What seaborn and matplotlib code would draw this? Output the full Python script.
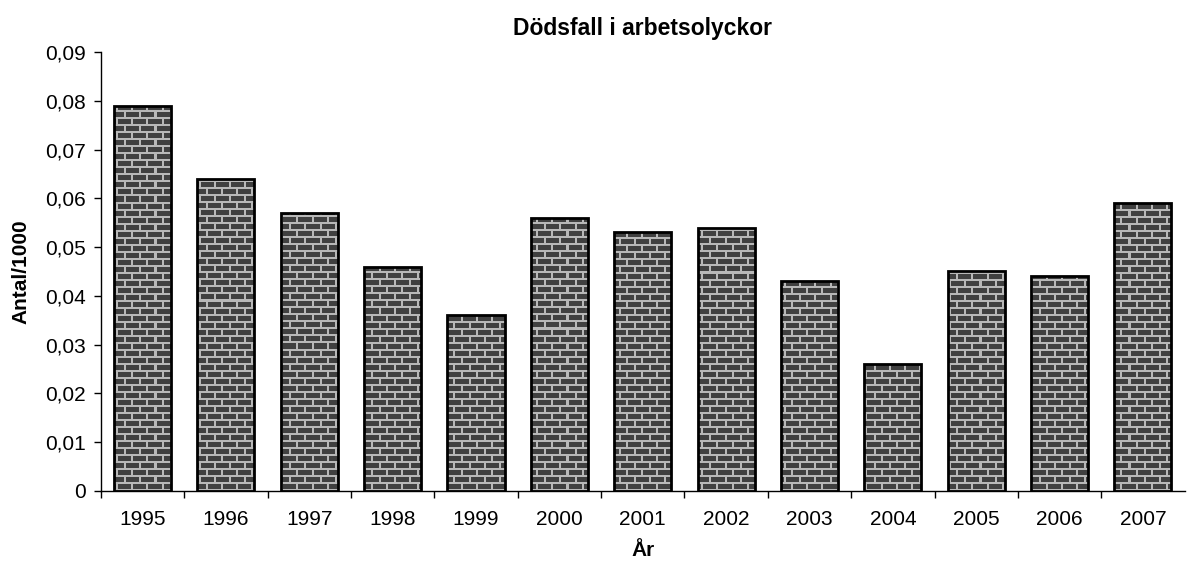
import numpy as np
import pandas as pd
import matplotlib
matplotlib.use("Agg")
import matplotlib.pyplot as plt
import seaborn as sns

years = ["1995", "1996", "1997", "1998", "1999", "2000", "2001",
         "2002", "2003", "2004", "2005", "2006", "2007"]
rates = [0.079, 0.064, 0.057, 0.046, 0.036, 0.056, 0.053,
         0.054, 0.043, 0.026, 0.045, 0.044, 0.059]

df = pd.DataFrame({"År": years, "Antal/1000": rates})

sns.set_theme(style="white")
plt.rcParams["font.family"] = ["Liberation Sans", "DejaVu Sans"]
plt.rcParams["text.color"] = "black"
plt.rcParams["axes.labelcolor"] = "black"
plt.rcParams["xtick.color"] = "black"
plt.rcParams["ytick.color"] = "black"

fig = plt.figure(figsize=(11.87, 5.65), dpi=100)
ax = fig.add_axes([0.085, 0.131, 0.913, 0.777])

sns.barplot(data=df, x="År", y="Antal/1000", ax=ax, width=0.685,
            color="#454545", edgecolor="black", linewidth=2, saturation=1)

ax.set_ylim(0, 0.09)
ax.set_xlim(-0.5, len(years) - 0.5)

# brick texture, one texture pixel per screen pixel
fig.canvas.draw()
bbox = ax.get_window_extent()
W, H = int(round(bbox.width)), int(round(bbox.height))
row_h, brick_w, mortar = 7, 15, 2
tex = np.full((H, W), 0.25)
yy, xx = np.mgrid[0:H, 0:W]
row = yy // row_h
mortar_row = (yy % row_h) < mortar
shift = (row % 2) * (brick_w // 2)
mortar_col = ((xx + shift) % brick_w) < mortar
tex[mortar_row | mortar_col] = 0.72
tex = np.flipud(tex)

for p in ax.patches:
    im = ax.imshow(tex, cmap="gray", vmin=0, vmax=1, origin="upper",
                   extent=(-0.5, len(years) - 0.5, 0, 0.09),
                   aspect="auto", interpolation="nearest", zorder=0.5)
    im.set_clip_path(p)
    p.set_facecolor("none")
    p.set_zorder(2)

ax.set_xlim(-0.5, len(years) - 0.5)
ax.set_ylim(0, 0.09)

ax.set_yticks(np.arange(0, 0.091, 0.01))
ax.set_yticklabels(["0"] + [f"0,{i:02d}" for i in range(1, 10)])
ax.set_xticks(np.arange(len(years)) - 0.5, minor=True)
ax.tick_params(axis="x", which="major", length=0, labelsize=15, pad=14)
ax.tick_params(axis="x", which="minor", length=5, width=1, color="black",
               direction="out", bottom=True)
ax.tick_params(axis="y", length=5, width=1, color="black", direction="out",
               left=True, labelsize=15, pad=6)

for s in ["top", "right"]:
    ax.spines[s].set_visible(False)
for s in ["left", "bottom"]:
    ax.spines[s].set_color("black")
    ax.spines[s].set_linewidth(1)

ax.set_title("Dödsfall i arbetsolyckor", fontsize=16.5, fontweight="bold",
             pad=12, color="black")
ax.set_xlabel("År", fontsize=15, fontweight="bold", labelpad=8)
ax.set_ylabel("Antal/1000", fontsize=15, fontweight="bold", labelpad=10)

fig.savefig("out.png", dpi=100)
